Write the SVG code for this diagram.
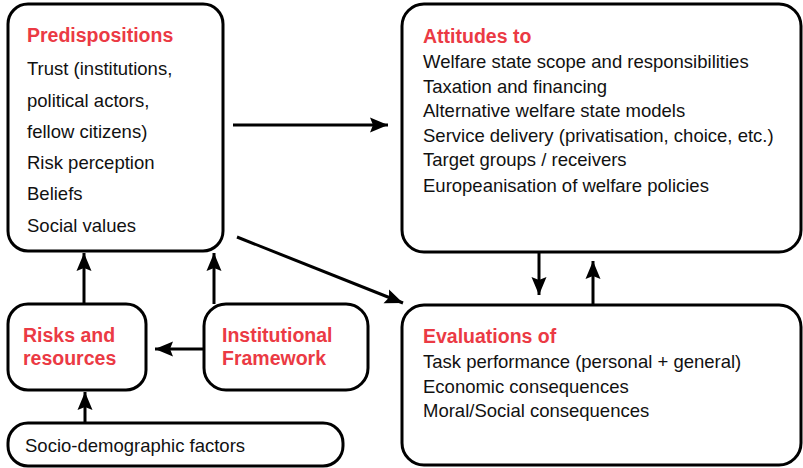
<svg xmlns="http://www.w3.org/2000/svg" width="803" height="468" viewBox="0 0 803 468">
<style>
.box{fill:#fff;stroke:#000;stroke-width:3}
.t{font-family:"Liberation Sans",Arial,sans-serif;font-size:18.5px;fill:#111}
.h{font-family:"Liberation Sans",Arial,sans-serif;font-size:19.5px;font-weight:bold;fill:#eb3a44}
.c{stroke:#000;stroke-width:3;fill:none;marker-end:url(#ah)}
</style>
<defs>
<marker id="ah" markerUnits="userSpaceOnUse" markerWidth="20" markerHeight="16" viewBox="-19 -8 20 16" refX="0" refY="0" orient="auto">
<path d="M0,0 L-18,-7.5 L-15,0 L-18,7.5 Z" fill="#000"/>
</marker>
</defs>
<rect width="803" height="468" fill="#fff"/>
<g id="connectors">
<line class="c" x1="233" y1="125" x2="388" y2="125"/>
<line class="c" x1="237" y1="237" x2="403" y2="303"/>
<line class="c" x1="539" y1="252" x2="539" y2="295"/>
<line class="c" x1="593" y1="305" x2="593" y2="261"/>
<line class="c" x1="84" y1="304" x2="84" y2="253"/>
<line class="c" x1="214" y1="304" x2="214" y2="253"/>
<line class="c" x1="204" y1="349" x2="155" y2="349"/>
<line class="c" x1="85" y1="423" x2="85" y2="392"/>
</g>
<g id="predispositions">
<rect class="box" x="8" y="4" width="215" height="247" rx="20"/>
<text class="h" x="27" y="42">Predispositions</text>
<text class="t" x="27" y="75">Trust (institutions,</text>
<text class="t" x="27" y="107">political actors,</text>
<text class="t" x="27" y="138">fellow citizens)</text>
<text class="t" x="27" y="169">Risk perception</text>
<text class="t" x="27" y="200">Beliefs</text>
<text class="t" x="27" y="232">Social values</text>
</g>
<g id="attitudes">
<rect class="box" x="402" y="4" width="399" height="248" rx="22"/>
<text class="h" x="423" y="43">Attitudes to</text>
<text class="t" x="423" y="68">Welfare state scope and responsibilities</text>
<text class="t" x="423" y="93">Taxation and financing</text>
<text class="t" x="423" y="117">Alternative welfare state models</text>
<text class="t" x="423" y="142">Service delivery (privatisation, choice, etc.)</text>
<text class="t" x="423" y="166">Target groups / receivers</text>
<text class="t" x="423" y="192">Europeanisation of welfare policies</text>
</g>
<g id="evaluations">
<rect class="box" x="402" y="305" width="399" height="160" rx="22"/>
<text class="h" x="423" y="343">Evaluations of</text>
<text class="t" x="423" y="368">Task performance (personal + general)</text>
<text class="t" x="423" y="393">Economic consequences</text>
<text class="t" x="423" y="417">Moral/Social consequences</text>
</g>
<g id="risks">
<rect class="box" x="8" y="304" width="138" height="86" rx="20"/>
<text class="h" x="23" y="342">Risks and</text>
<text class="h" x="23" y="365">resources</text>
</g>
<g id="institutional">
<rect class="box" x="204" y="304" width="164" height="86" rx="22"/>
<text class="h" x="222" y="342">Institutional</text>
<text class="h" x="222" y="365">Framework</text>
</g>
<g id="socio">
<rect class="box" x="8" y="423" width="335" height="43" rx="20"/>
<text class="t" x="25" y="452">Socio-demographic factors</text>
</g>
</svg>
